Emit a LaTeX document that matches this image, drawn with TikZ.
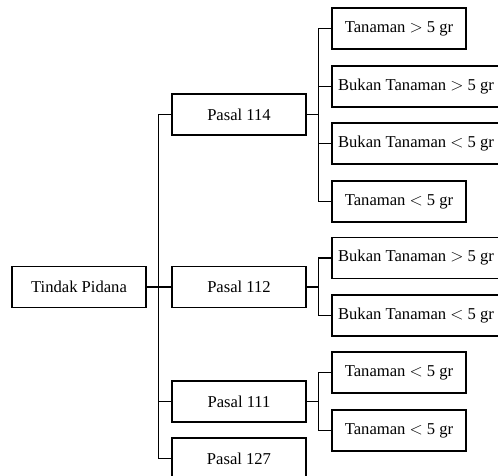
\documentclass[tikz,border=0pt]{standalone}
\usepackage{fontspec}
\setmainfont{Liberation Serif}
\usetikzlibrary{calc}

\begin{document}
\begin{tikzpicture}[x=1pt,y=-1pt,line width=1.1pt,
  kotak/.style={draw,line width=1.1pt,minimum width=134pt,minimum height=41pt,inner sep=0pt,font=\fontsize{16.6}{20}\selectfont},
  lebar/.style={kotak,minimum width=168pt}]
\useasboundingbox (0,0) rectangle (498,475);
\node[kotak] (TP) at (79,287) {Tindak Pidana};
\node[kotak] (P114) at (239,114.5) {Pasal 114};
\node[kotak] (P112) at (239,287) {Pasal 112};
\node[kotak] (P111) at (239,401.5) {Pasal 111};
\node[kotak] (P127) at (239,458.5) {Pasal 127};
\node[kotak] (A1) at (399,28.5) {Tanaman $>$ 5 gr};
\node[lebar] (A2) at (416,86.5) {Bukan Tanaman $>$ 5 gr};
\node[lebar] (A3) at (416,143.5) {Bukan Tanaman $<$ 5 gr};
\node[kotak] (A4) at (399,201.5) {Tanaman $<$ 5 gr};
\node[lebar] (B1) at (416,258) {Bukan Tanaman $>$ 5 gr};
\node[lebar] (B2) at (416,315.5) {Bukan Tanaman $<$ 5 gr};
\node[kotak] (C1) at (399,372.5) {Tanaman $<$ 5 gr};
\node[kotak] (C2) at (399,430.5) {Tanaman $<$ 5 gr};
\coordinate (batang) at (158.5,287);
\coordinate (c114) at (318.5,114.5);
\coordinate (c112) at (318.5,287);
\coordinate (c111) at (318.5,401.5);
% batang utama
\draw (TP.east) -- (P112.west);
\draw (P114.west) -| (batang) |- (P127.west);
\draw (P111.west) -| (batang);
% cabang pasal
\draw (P114.east) -- (c114);
\draw (A1.west) -| (c114) |- (A4.west);
\draw (A2.west) -| (c114);
\draw (A3.west) -| (c114);
\draw (P112.east) -- (c112);
\draw (B1.west) -| (c112) |- (B2.west);
\draw (P111.east) -- (c111);
\draw (C1.west) -| (c111) |- (C2.west);
\end{tikzpicture}
\end{document}
